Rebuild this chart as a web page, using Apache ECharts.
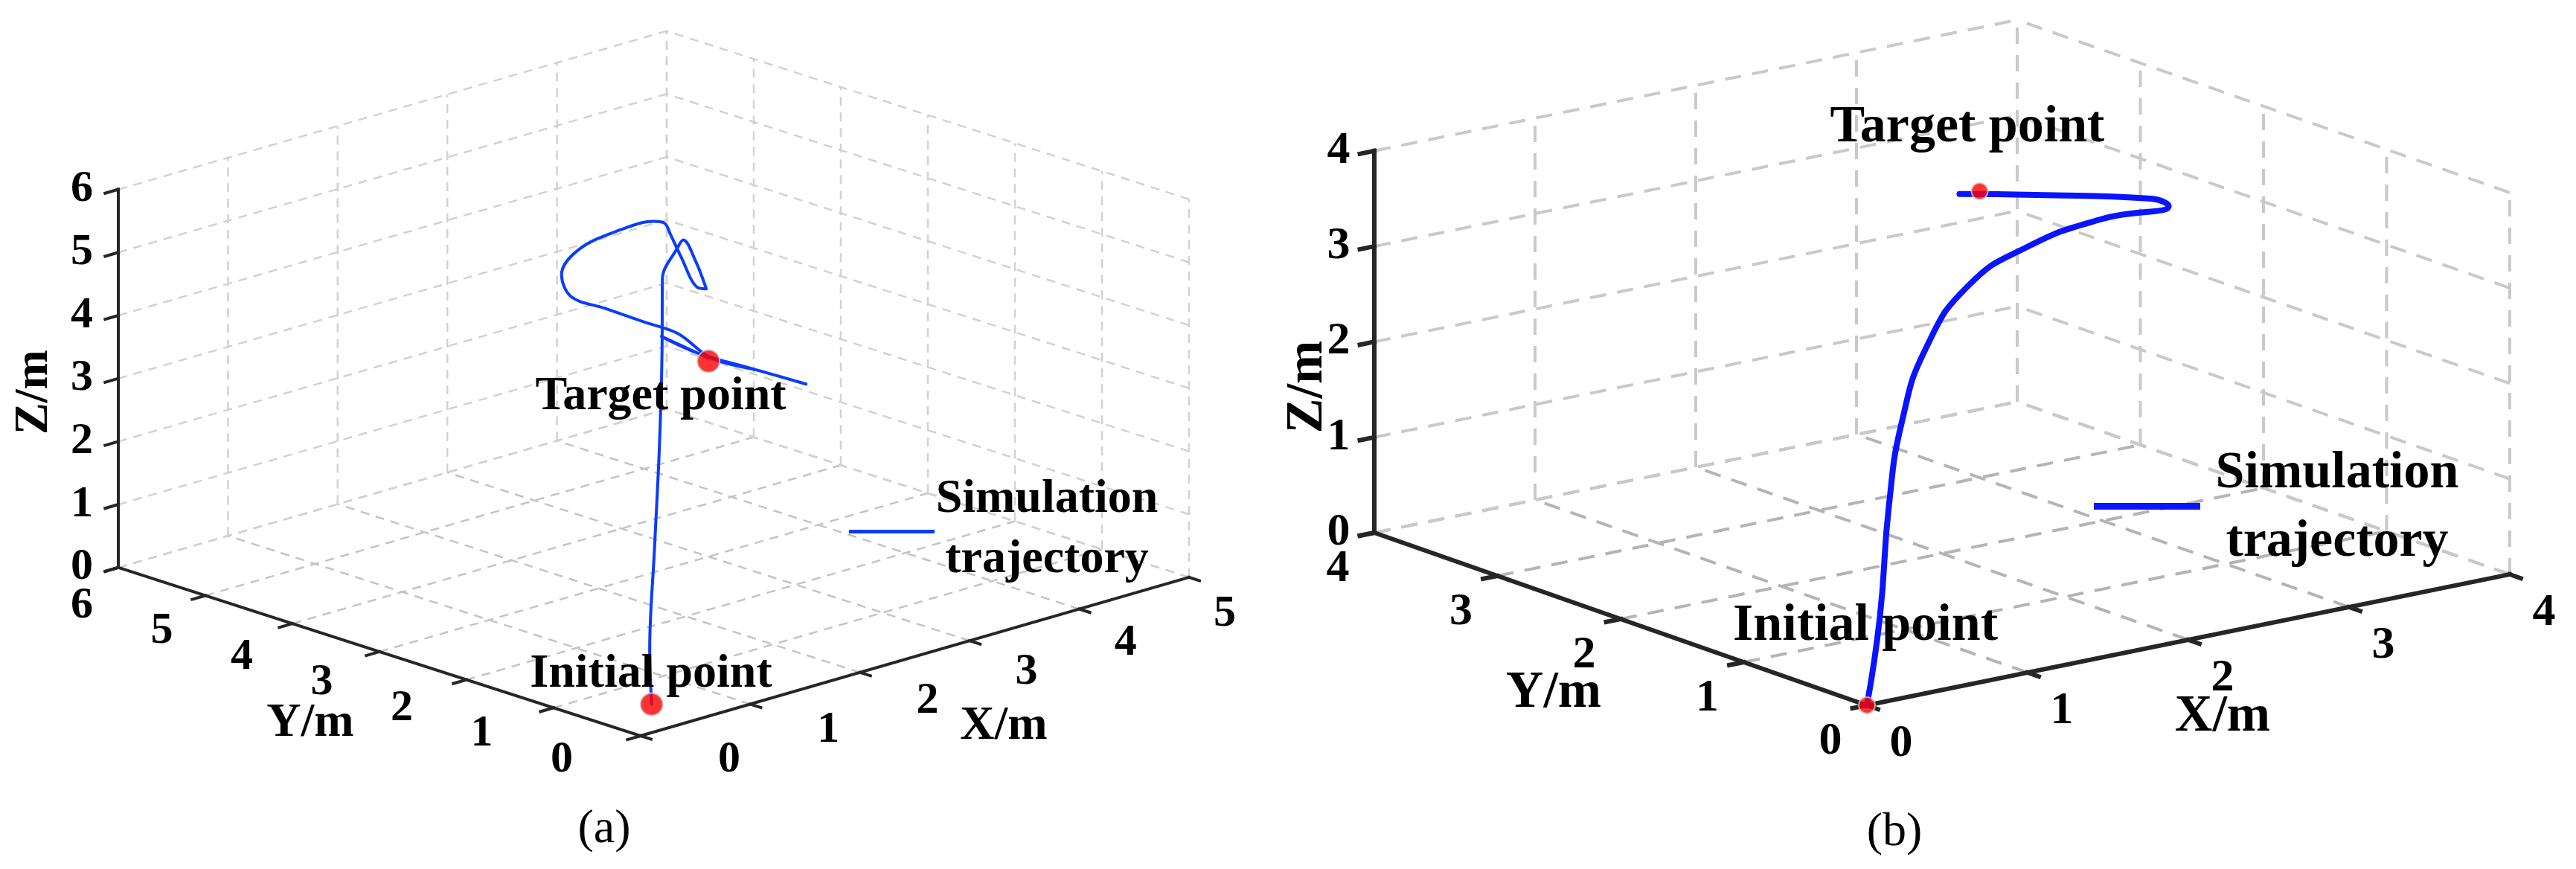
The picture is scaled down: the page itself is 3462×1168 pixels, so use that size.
<!DOCTYPE html>
<html><head><meta charset="utf-8">
<script src="https://cdn.jsdelivr.net/npm/echarts@6/dist/echarts.min.js"></script>
<style>html,body{margin:0;padding:0;background:#fff}#c{width:3462px;height:1168px}</style>
</head><body><div id="c"></div>
<script>
// ---------- data ----------
const xTicksA = [0,1,2,3,4,5];
const yTicksA = [0,1,2,3,4,5,6];
const zTicksA = [0,1,2,3,4,5,6];
const xTicksB = [0,1,2,3,4];
const yTicksB = [0,1,2,3,4];
const zTicksB = [0,1,2,3,4];

// panel (a) simulated trajectory (X, Y, Z in metres)
const trajAX = [0.10,0.40,1.00,1.60,2.10,2.50,2.72,2.77,2.88,2.98,2.90,2.75,2.65,2.60,2.50,2.20,1.82,1.66,1.75,2.05,2.42,2.72,3.03,3.46,3.89,3.40,2.90,2.57,3.00];
const trajAY = [0.00,0.40,1.10,1.80,2.40,2.90,3.00,3.00,3.00,3.00,3.00,3.00,3.00,3.00,3.00,3.00,3.00,3.00,3.00,3.00,3.00,3.00,3.00,3.00,3.00,3.00,3.00,3.00,3.00];
const trajAZ = [0.45,1.00,2.00,3.00,4.00,4.70,5.05,5.14,4.76,4.26,4.32,4.88,5.30,5.49,5.57,5.59,5.47,5.15,4.75,4.42,4.01,3.68,3.13,2.72,2.29,2.78,3.28,3.71,3.15];
const initialA = [0.10,0.00,0.45];
const targetA  = [3.00,3.00,3.10];

// panel (b) simulated trajectory
const trajBX = [0.00,0.51,0.95,1.30,1.68,2.11,2.45,2.85,3.15,3.27,3.07,2.89];
const trajBY = [0.00,0.56,1.06,1.41,1.71,1.93,1.90,1.81,1.66,1.96,2.64,3.02];
const trajBZ = [0.00,0.50,1.30,1.90,2.40,2.80,3.10,3.30,3.40,3.30,3.10,3.00];
const initialB = [0,0,0];
const targetB  = [3,3,3];

// ---------- view projection (style) ----------
const PA = {o:[861,989], ex:[147.4,-42.6], ey:[-117,-37.7], ez:[0,-84.7], max:[5,6,6]};
const PB = {o:[2509,948], ex:[216,-44], ey:[-165.5,-58], ez:[0,-128.3], max:[4,4,4]};
function proj(P, p){
  return [P.o[0]+P.ex[0]*p[0]+P.ey[0]*p[1]+P.ez[0]*p[2],
          P.o[1]+P.ex[1]*p[0]+P.ey[1]*p[1]+P.ez[1]*p[2]];
}
function zip3(a,b,c){return a.map((v,i)=>[v,b[i],c[i]]);}

function gridSegs(P, xt, yt, zt){
  const [X,Y,Z]=P.max; const s=[];
  xt.forEach(i=>{s.push([[i,0,0],[i,Y,0],1]); s.push([[i,Y,0],[i,Y,Z],0]);});
  yt.forEach(j=>{s.push([[0,j,0],[X,j,0],1]); s.push([[X,j,0],[X,j,Z],0]);});
  zt.forEach(k=>{s.push([[0,Y,k],[X,Y,k],0]); s.push([[X,0,k],[X,Y,k],0]);});
  return s.map(q=>{const a=proj(P,q[0]),b=proj(P,q[1]);return [a[0],a[1],b[0],b[1],q[2]];});
}
function axisSegs(P, xt, yt, zt, tl){
  const [X,Y,Z]=P.max; const s=[];
  s.push([[0,0,0],[X,0,0]]); s.push([[0,0,0],[0,Y,0]]); s.push([[0,Y,0],[0,Y,Z]]);
  xt.forEach(i=>s.push([[i,0,0],[i,-tl,0]]));
  yt.forEach(j=>s.push([[0,j,0],[-tl,j,0]]));
  zt.forEach(k=>s.push([[0,Y,k],[-tl,Y,k]]));
  return s.map(q=>{const a=proj(P,q[0]),b=proj(P,q[1]);return [a[0],a[1],b[0],b[1]];});
}
function tickLabels(P, xt, yt, zt, xoff, yoff, zoff){
  const Y=P.max[1]; const out=[];
  xt.forEach(i=>{const p=proj(P,[i,0,0]);const o=xoff(i);out.push([p[0]+o[0],p[1]+o[1],String(i)]);});
  yt.forEach(j=>{const p=proj(P,[0,j,0]);const o=yoff(j);out.push([p[0]+o[0],p[1]+o[1],String(j)]);});
  zt.forEach(k=>{const p=proj(P,[0,Y,k]);out.push([p[0]+zoff[0],p[1]+zoff[1],String(k)]);});
  return out;
}

const FONT = 'Liberation Serif';
function segSeries(data, colors, width, dash, z){
  return {type:'custom', coordinateSystem:'cartesian2d', silent:true, z:z, animation:false,
    encode:{x:[0,2], y:[1,3]},
    data:data,
    renderItem:function(params, api){
      const a=api.coord([api.value(0),api.value(1)]), b=api.coord([api.value(2),api.value(3)]);
      const c = colors[api.value(4)||0];
      return {type:'line', shape:{x1:a[0],y1:a[1],x2:b[0],y2:b[1]},
        style:{stroke:c, lineWidth:width, lineDash:dash, lineCap: dash?'butt':'square'}};
    }};
}
function textSeries(data, size, z){
  return {type:'custom', coordinateSystem:'cartesian2d', silent:true, z:z, animation:false,
    encode:{x:0,y:1}, data:data,
    renderItem:function(params, api){
      const d=data[params.dataIndex]; const p=api.coord([d[0],d[1]]);
      return {type:'text', x:p[0], y:p[1], rotation:d[3]||0,
        style:{text:d[2], fill:'#000', font:'bold '+size+'px "'+FONT+'"', align:'center', verticalAlign:'middle'}};
    }};
}
function lineSeries(P, pts, color, width, smooth){
  return {type:'line', data:pts.map(p=>proj(P,p)), showSymbol:false, symbol:'none', z:5, animation:false,
    smooth:smooth, lineStyle:{color:color, width:width, join:'round', cap:'round'}, silent:true};
}
function markSeries(P, pts, size){
  return {type:'scatter', data:pts.map(p=>proj(P,p)), symbolSize:size, z:6, animation:false, silent:true,
    itemStyle:{color:'#ff0000', borderColor:'#c8c8c8', borderWidth:2}};
}

const labA = tickLabels(PA, xTicksA, yTicksA, zTicksA,
  i=>[119-14.2*i, 32+3.4*i], j=>[-106+9.5*j, 32+3.2*j], [-49,0]);
const labB = tickLabels(PB, xTicksB, yTicksB, zTicksB,
  i=>[46,52], j=>[-49,49], [-48,0]);

const annA = [[888,533,'Target point'],[875,906,'Initial point'],[1407,671,'Simulation'],[1407,752,'trajectory'],
  [46,527,'Z/m',Math.PI/2],[417,972,'Y/m'],[1349,976,'X/m']];
const annB = [[2644,172,'Target point'],[2507,842,'Initial point'],[3141,637,'Simulation'],[3141,729,'trajectory'],
  [1758,520,'Z/m',Math.PI/2],[2088,932,'Y/m'],[2987,964,'X/m']];

const chart = echarts.init(document.getElementById('c'), null, {renderer:'canvas'});
chart.setOption({
  backgroundColor:'#fff', animation:false,
  grid:{left:0,right:0,top:0,bottom:0},
  xAxis:{type:'value', min:0, max:3462, show:false},
  yAxis:{type:'value', min:0, max:1168, inverse:true, show:false},
  series:[
    segSeries(gridSegs(PA,xTicksA,yTicksA,zTicksA), ['#d2d2d2','#c4c4c4'], 2.5, [12,9], 1),
    segSeries(gridSegs(PB,xTicksB,yTicksB,zTicksB), ['#c9c9c9','#b4b4b4'], 4, [22,15], 1),
    segSeries(axisSegs(PA,xTicksA,yTicksA,zTicksA,0.12).map(s=>s.concat([0])), ['#262626'], 4, null, 3),
    segSeries(axisSegs(PB,xTicksB,yTicksB,zTicksB,0.09).map(s=>s.concat([0])), ['#262626'], 6, null, 3),
    lineSeries(PA, zip3(trajAX,trajAY,trajAZ), '#0a3cff', 4, 0.35),
    lineSeries(PB, zip3(trajBX,trajBY,trajBZ), '#0a14ff', 8, 0.5),
    markSeries(PA, [initialA, targetA], 30),
    markSeries(PB, [initialB, targetB], 22),
    textSeries(labA, 60, 8),
    textSeries(labB, 62, 8),
    textSeries(annA, 64, 9),
    textSeries(annB, 70, 9),
    {type:'lines', coordinateSystem:'cartesian2d', z:7, silent:true, animation:false,
     data:[{coords:[[1141,714],[1256,714]], lineStyle:{width:5,color:'#0a3cff',opacity:1}},
           {coords:[[2814,680],[2957,680]], lineStyle:{width:9,color:'#0a14ff',opacity:1}}]}
  ],
  graphic:[
    {type:'text', x:812, y:1115, style:{text:'(a)', font:'64px "'+FONT+'"', fill:'#000', align:'center', verticalAlign:'middle'}},
    {type:'text', x:2546, y:1119, style:{text:'(b)', font:'64px "'+FONT+'"', fill:'#000', align:'center', verticalAlign:'middle'}}
  ]
});
</script></body></html>
